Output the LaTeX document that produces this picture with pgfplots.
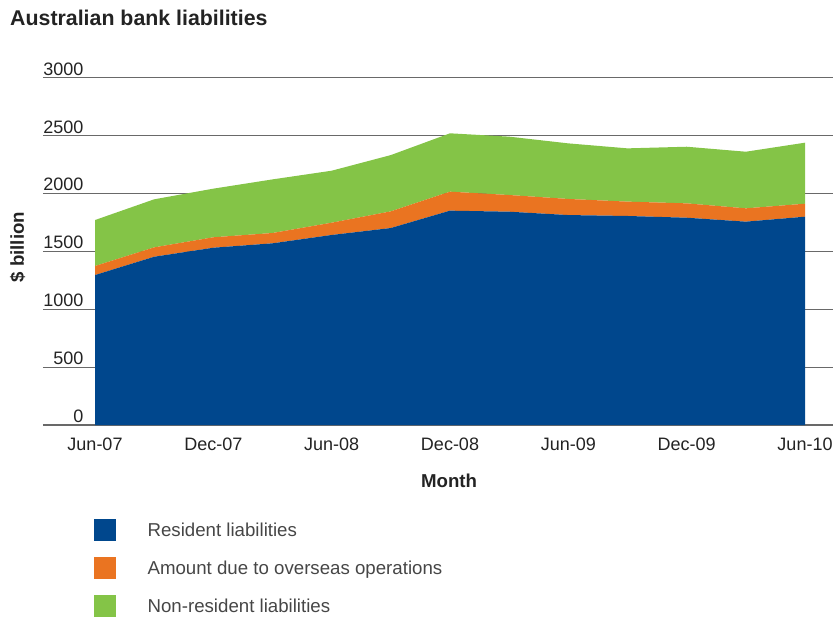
\documentclass[border=0pt]{standalone}
\usepackage{pgfplots}
\pgfplotsset{compat=1.18}
\usepackage{fontspec}
\setmainfont{Liberation Sans}
\definecolor{resblue}{RGB}{0,71,141}
\definecolor{ovorange}{RGB}{234,116,33}
\definecolor{nrgreen}{RGB}{132,196,71}
\definecolor{gridgray}{RGB}{105,105,105}
\definecolor{txt}{RGB}{35,35,35}
\definecolor{legtxt}{RGB}{70,70,70}
\pgfplotstableread{
x res ov nr
0 1295 78 397
1 1453 81 415
2 1531 90 420
3 1569 89 463
4 1641 106 449
5 1701 144 486
6 1851 164 504
7 1842 144 504
8 1813 139 480
9 1805 124 460
10 1790 124 489
11 1756 115 489
12 1799 112 527
}\datatable
\begin{document}
\begin{tikzpicture}
\useasboundingbox (-32.25pt,-145.5pt) rectangle (597.75pt,318.75pt);
\begin{axis}[
  at={(0,0)}, anchor=south west,
  scale only axis, width=592.5pt, height=260.55pt,
  xmin=-0.879, xmax=12.473, ymin=0, ymax=3000,
  axis line style={draw=none},
  ytick={0,500,...,3000},
  ymajorgrids, grid style={gridgray, line width=0.9pt},
  xtick={0,2,4,6,8,10,12},
  xticklabels={Jun-07,Dec-07,Jun-08,Dec-08,Jun-09,Dec-09,Jun-10},
  major tick length=0pt,
  tick label style={font=\fontsize{13.5}{16}\selectfont, text=txt},
  yticklabel style={anchor=south east, xshift=32pt, inner sep=1.5pt},
  xticklabel style={anchor=north, yshift=-6.5pt},
  /pgf/number format/assume math mode=true,
  /pgf/number format/set thousands separator={},
  title={Australian bank liabilities},
  title style={at={(axis description cs:-0.0418,1.149)}, anchor=west, font=\fontsize{16}{19}\selectfont\bfseries, text=txt, inner sep=0pt},
  xlabel={Month},
  xlabel style={at={(axis description cs:0.514,-0.161)}, anchor=center, font=\fontsize{14}{16}\selectfont\bfseries, text=txt},
  ylabel={\$ billion},
  ylabel style={at={(axis description cs:-0.032,0.512)}, anchor=center, font=\fontsize{14}{16}\selectfont\bfseries, text=txt},
  stack plots=y,
  legend style={at={(0,0)}, anchor=north west, xshift=38.25pt, yshift=-70.5pt, draw=none, fill=none, inner sep=0pt, row sep=12pt, font=\fontsize{14}{16}\selectfont, text=legtxt},
  legend cell align=left,
  legend image code/.code={\fill[#1] (0pt,-8.25pt) rectangle (16.5pt,8.25pt); \path (38pt,0pt);},
]
\addplot[fill=resblue, draw=none] table[x=x, y=res] {\datatable} \closedcycle;
\addlegendentry{Resident liabilities}
\addplot[fill=ovorange, draw=none] table[x=x, y=ov] {\datatable} \closedcycle;
\addlegendentry{Amount due to overseas operations}
\addplot[fill=nrgreen, draw=none] table[x=x, y=nr] {\datatable} \closedcycle;
\addlegendentry{Non-resident liabilities}
\end{axis}
\end{tikzpicture}
\end{document}
